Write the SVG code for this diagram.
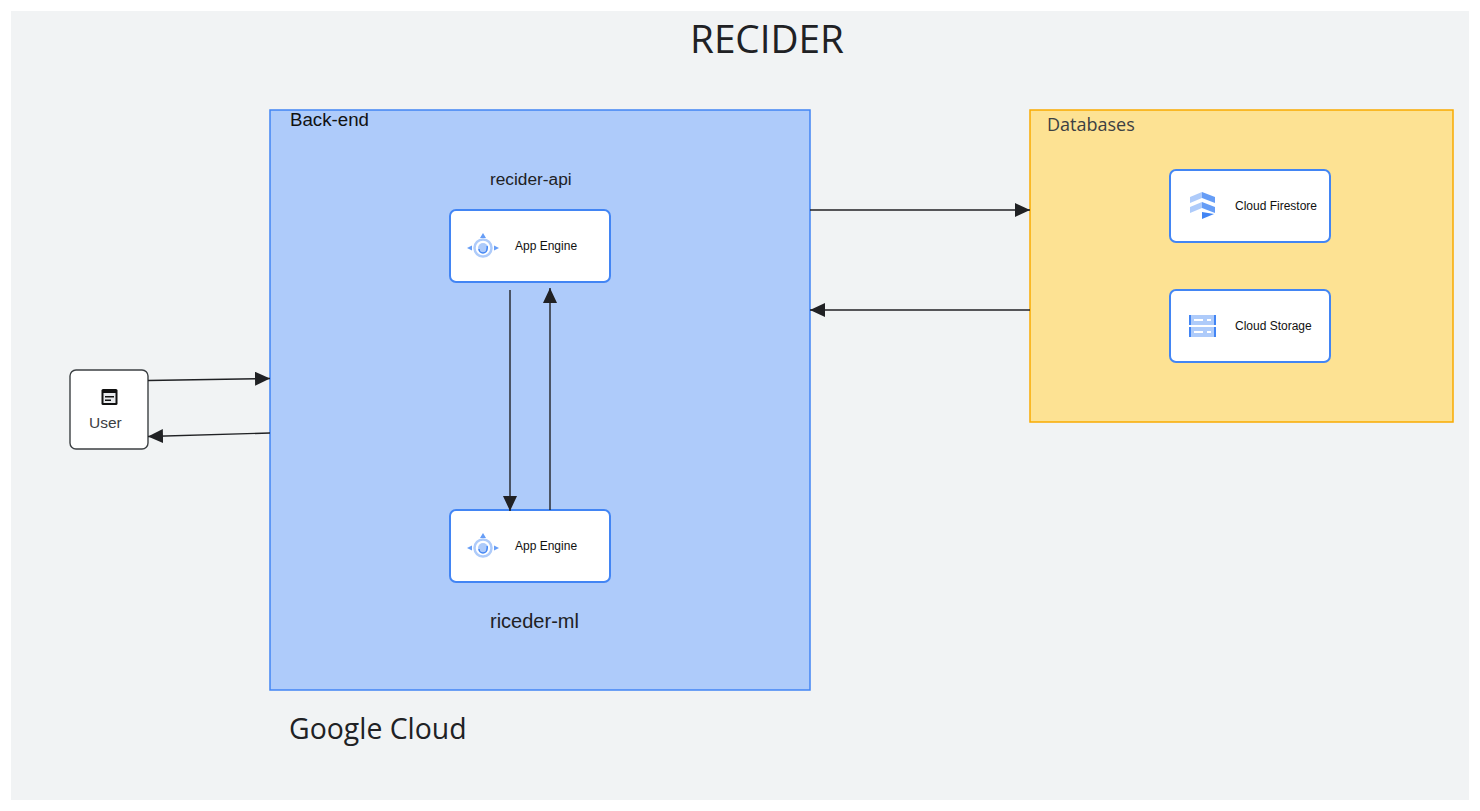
<svg xmlns="http://www.w3.org/2000/svg" width="1480" height="811" viewBox="0 0 1480 811">
<style>
text{font-family:"Liberation Sans",Arial,sans-serif;fill:#202124}
.os{font-family:"Open Sans","Noto Sans",sans-serif}
.card{fill:#fff;stroke:#4285f4;stroke-width:2}
.small{font-size:12px;fill:#111}
.con{fill:none;stroke:#202124;stroke-width:1.4;marker-end:url(#ah)}
.l{fill:#aecbfa}.m{fill:#669df6}.d{fill:#4285f4}
</style>
<defs>
<marker id="ah" markerUnits="userSpaceOnUse" markerWidth="16" markerHeight="14" refX="15" refY="7" orient="auto"><path d="M0 0L15 7L0 14Z" fill="#202124"/></marker>
<g id="ae">
<path class="m" d="M0-15L3-10H-3Z"/><path class="m" d="M-16 0L-11-2.500V2.500Z"/><path class="m" d="M16 0L11-2.500V2.500Z"/>
<circle r="8.500" fill="none" stroke="#aecbfa" stroke-width="2.500"/><circle r="5" fill="#aecbfa"/><path d="M-4 1A4 4 0 0 0 4 1A4 4 0 0 0 4-2" fill="none" stroke="#4285f4" stroke-width="1.500"/>
</g>
</defs>
<rect width="1480" height="811" fill="#fff"/>
<g id="canvas">
<rect x="11" y="11" width="1458" height="789" fill="#f1f3f4"/>
<text class="os" x="767" y="53" font-size="38.700" text-anchor="middle">RECIDER</text>
<text class="os" x="289" y="739" font-size="28.400">Google Cloud</text>
</g>
<g id="backend">
<rect x="270" y="110" width="540" height="580" fill="#aecbfa" stroke="#4285f4" stroke-width="1.500"/>
<text x="290" y="126" font-size="18.700" style="fill:#111">Back-end</text>
<text x="490" y="185" font-size="17.300">recider-api</text>
<text x="490" y="628" font-size="20">riceder-ml</text>
</g>
<g id="databases">
<rect x="1030" y="110" width="423" height="312" fill="#fde293" stroke="#f9ab00" stroke-width="1.500"/>
<text class="os" x="1047" y="131" font-size="18" style="fill:#3c4043">Databases</text>
</g>
<g id="app-engine-api">
<rect class="card" x="450" y="210" width="160" height="72" rx="6"/>
<use href="#ae" x="483" y="248"/>
<text class="small" x="515" y="250">App Engine</text>
</g>
<g id="app-engine-ml">
<rect class="card" x="450" y="510" width="160" height="72" rx="6"/>
<use href="#ae" x="483" y="548"/>
<text class="small" x="515" y="550">App Engine</text>
</g>
<g id="cloud-firestore">
<rect class="card" x="1170" y="170" width="160" height="72" rx="6"/>
<path class="l" d="M1190 197L1202 192V198L1190 203Z"/><path class="m" d="M1202 192L1215 197V203L1202 198Z"/>
<path class="l" d="M1190 207L1202 202V208L1190 213Z"/><path class="m" d="M1202 202L1215 207V213L1202 208Z"/>
<path class="d" d="M1202 212L1214 214L1202 219Z"/>
<text class="small" x="1235" y="210">Cloud Firestore</text>
</g>
<g id="cloud-storage">
<rect class="card" x="1170" y="290" width="160" height="72" rx="6"/>
<rect class="l" x="1189" y="315" width="27" height="10"/><rect class="l" x="1189" y="327" width="27" height="10"/>
<path class="d" d="M1189 315h2v10h-2zM1214 315h2v10h-2zM1189 327h2v10h-2zM1214 327h2v10h-2z"/>
<path d="M1194 319h9v2h-9zM1207 319h4v2h-4zM1194 331h9v2h-9zM1207 331h4v2h-4z" fill="#fff"/>
<text class="small" x="1235" y="330">Cloud Storage</text>
</g>
<g id="user">
<rect x="70" y="370" width="78" height="79" rx="6" fill="#fff" stroke="#3c4043" stroke-width="1.400"/>
<rect x="101.500" y="389" width="16" height="16" rx="1.500" fill="#111"/>
<rect x="103.500" y="393" width="12" height="10" fill="#e8eaed"/>
<path d="M105 396h9v1.500h-9zM105 399.500h6v1.500h-6z" fill="#111"/>
<text x="89" y="428" font-size="15.500" style="fill:#3c4043">User</text>
</g>
<g id="connectors">
<path class="con" d="M810 210H1030"/>
<path class="con" d="M1030 310H810"/>
<path class="con" d="M510 290V511"/>
<path class="con" d="M550 510V288"/>
<path class="con" d="M148 380.500L270 378.500"/>
<path class="con" d="M270 433L148 436.500"/>
</g>
</svg>
